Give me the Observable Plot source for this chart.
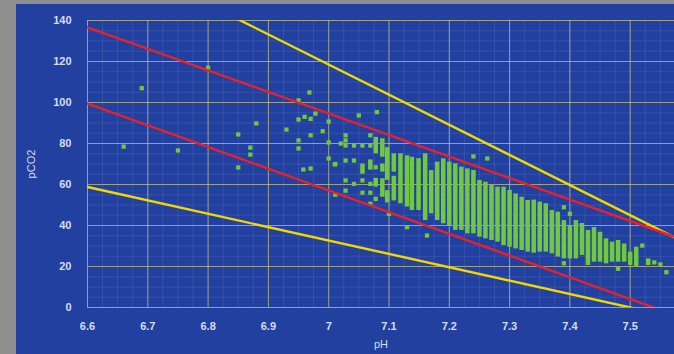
<!DOCTYPE html>
<html><head><meta charset="utf-8">
<script src="https://cdn.jsdelivr.net/npm/d3@7"></script>
<script src="https://cdn.jsdelivr.net/npm/@observablehq/plot@0.6"></script>
<style>
html,body{margin:0;padding:0;background:#8e8e8e;width:674px;height:354px;overflow:hidden}
#panel{position:absolute;left:16px;top:4px;width:658px;height:350px;background:#22409f}
#panel svg{display:block}
g[aria-label="x-axis tick label"] text, g[aria-label="y-axis tick label"] text{font-weight:bold}
</style></head><body><div id="panel"></div>
<script>
// axis ticks
const xTicks = [6.6, 6.7, 6.8, 6.9, 7.0, 7.1, 7.2, 7.3, 7.4, 7.5];
const xTickLabels = ["6.6", "6.7", "6.8", "6.9", "7", "7.1", "7.2", "7.3", "7.4", "7.5"];
const yTicks = [0, 20, 40, 60, 80, 100, 120, 140];
const yTickLabels = ["0", "20", "40", "60", "80", "100", "120", "140"];

// reference lines (endpoints, clipped to the frame)
const redUpperPH = [6.6, 7.6];
const redUpperPCO2 = [136.6, 31.7];
const redLowerPH = [6.6, 7.6];
const redLowerPCO2 = [99.5, -6.5];
const yellowUpperPH = [6.8, 7.6];
const yellowUpperPCO2 = [147.9, 30.3];
const yellowLowerPH = [6.6, 7.6];
const yellowLowerPCO2 = [58.8, -6.5];

// dense stacks of measurements (pH column, lowest and highest pCO2 of a stack)
const colPH = [7.056, 7.069, 7.078, 7.078, 7.089, 7.089, 7.089, 7.097, 7.097, 7.108, 7.108, 7.119, 7.13, 7.138, 7.149, 7.16, 7.17, 7.18, 7.19, 7.20, 7.21, 7.22, 7.23, 7.24, 7.25, 7.26, 7.27, 7.28, 7.29, 7.30, 7.31, 7.32, 7.33, 7.34, 7.35, 7.36, 7.37, 7.38, 7.39, 7.40, 7.41, 7.42, 7.43, 7.44, 7.45, 7.46, 7.47, 7.48, 7.49, 7.50, 7.51, 7.53];
const colLow = [65, 67, 75, 58.7, 73.3, 66, 53.8, 62, 51, 66, 52, 50.6, 49, 47.3, 47.3, 42.4, 45.7, 42.4, 40.8, 40, 37.6, 37.6, 35.9, 35.9, 34.3, 33.5, 32.7, 31.9, 30.2, 29.4, 28.6, 27.8, 27, 26.5, 27, 27, 26.2, 24.6, 23.7, 23.7, 23.7, 25.4, 20.5, 22.1, 22.1, 21.3, 22.1, 22.1, 22.1, 20.5, 19.7, 20.5];
const colHigh = [70, 72, 83, 63, 82.3, 70, 62.8, 78, 57, 75, 64, 75, 74, 73.3, 72.6, 75, 66.8, 70.9, 72.5, 70.9, 70.1, 68.5, 67.6, 66.8, 62, 61.1, 59.5, 58.7, 58.7, 57.1, 55.4, 53.8, 52.2, 52.4, 51.4, 50.6, 47.3, 46.5, 42.4, 40, 42.4, 41, 37.6, 39, 36.7, 33.5, 31.9, 32.7, 31, 27, 29.4, 23.7];

// isolated measurements
const dotPH = [6.66, 6.69, 6.75, 6.80, 6.85, 6.85, 6.87, 6.87, 6.88, 6.93, 6.95, 6.95, 6.95, 6.95, 6.958, 6.96, 6.968, 6.97, 6.97, 6.97, 6.978, 6.99, 7.0, 7.0, 7.0, 7.01, 7.011, 7.011, 7.02,
  7.028, 7.028, 7.028, 7.028, 7.028, 7.028, 7.042, 7.042, 7.042, 7.05, 7.056, 7.056, 7.056, 7.069, 7.069, 7.069, 7.069, 7.069, 7.078, 7.078, 7.08, 7.10, 7.13, 7.163,
  7.24, 7.263, 7.39, 7.39, 7.40, 7.48, 7.52, 7.54, 7.55, 7.56];
const dotPCO2 = [78.5, 107, 76.6, 117, 84.4, 68.3, 78, 74.6, 89.8, 86.8, 101, 91.7, 81.5, 77.6, 67.3, 93, 104.9, 92, 84, 67.8, 94.6, 86, 90.7, 80.5, 72.7, 69.8, 70, 55, 80,
  84, 81.5, 79, 71.7, 62, 57, 79, 71.7, 60.3, 93.7, 79, 62, 56, 84, 79, 60.3, 56, 50.6, 68.4, 53, 95.3, 45.7, 39.2, 35.1,
  73.7, 72.7, 48.9, 21.6, 45.7, 18.9, 30.2, 22, 21, 17.2];

const cols = colPH.map((p, i) => ({pH: p, lo: colLow[i], hi: colHigh[i]}));
const dots = dotPH.map((p, i) => ({pH: p, pCO2: dotPCO2[i]}));
const seg = (xs, ys) => xs.map((x, i) => ({pH: x, pCO2: ys[i]}));

const green = "#70c83e";
const chart = Plot.plot({
  width: 658, height: 350,
  marginLeft: 71, marginTop: 16, marginBottom: 47, marginRight: 0,
  style: {background: "transparent", color: "#d8ddf0", fontFamily: "Arial, 'Liberation Sans', sans-serif", fontSize: "11px"},
  x: {domain: [6.6, 7.5735], ticks: xTicks, tickFormat: (d, i) => xTickLabels[i], tickSize: 0, tickPadding: 15,
      label: "pH", labelAnchor: "center", labelOffset: 40, labelArrow: "none"},
  y: {domain: [0, 140], ticks: yTicks, tickFormat: (d, i) => yTickLabels[i], tickSize: 0, tickPadding: 16,
      label: "pCO2", labelAnchor: "center", labelOffset: 60, labelArrow: "none"},
  marks: [
    Plot.gridX(d3.range(6.6, 7.58, 0.025), {stroke: "#8fa0e0", strokeOpacity: 0.18}),
    Plot.gridY(d3.range(0, 141, 5), {stroke: "#8fa0e0", strokeOpacity: 0.18}),
    Plot.gridX(xTicks, {stroke: "#c8c27e", strokeOpacity: 0.7}),
    Plot.gridY(yTicks, {stroke: "#c8c27e", strokeOpacity: 0.7}),
    Plot.ruleX(cols, {x: "pH", y1: "lo", y2: "hi", stroke: green, strokeWidth: 4.5}),
    Plot.dot(dots, {x: "pH", y: "pCO2", symbol: "square", r: 2.4, fill: green, stroke: null}),
    Plot.line(seg(yellowUpperPH, yellowUpperPCO2), {x: "pH", y: "pCO2", stroke: "#f0d800", strokeWidth: 2.4, clip: true}),
    Plot.line(seg(yellowLowerPH, yellowLowerPCO2), {x: "pH", y: "pCO2", stroke: "#f0d800", strokeWidth: 2.4, clip: true}),
    Plot.line(seg(redUpperPH, redUpperPCO2), {x: "pH", y: "pCO2", stroke: "#e6222c", strokeWidth: 2.4, clip: true}),
    Plot.line(seg(redLowerPH, redLowerPCO2), {x: "pH", y: "pCO2", stroke: "#e6222c", strokeWidth: 2.4, clip: true})
  ]
});
document.getElementById("panel").appendChild(chart);
</script></body></html>
